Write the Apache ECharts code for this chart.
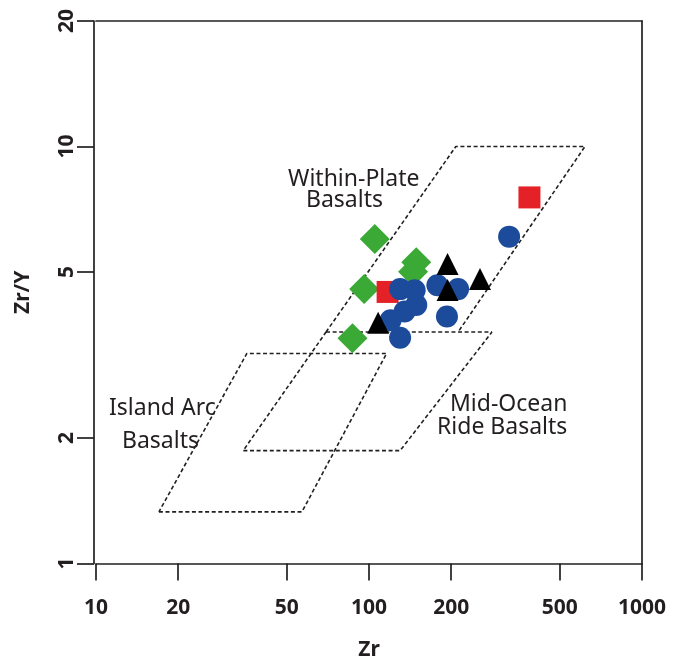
<!DOCTYPE html>
<html>
<head>
<meta charset="utf-8">
<script src="https://cdn.jsdelivr.net/npm/echarts@6/dist/echarts.min.js"></script>
<style>
  html, body { margin: 0; padding: 0; background: #fff; }
  #chart { width: 676px; height: 659px; }
</style>
</head>
<body>
<div id="chart"></div>
<script>
// Zr/Y versus Zr tectonic discrimination diagram (log–log)

// tick values on each axis
const xTicks = [10, 20, 50, 100, 200, 500, 1000];
const yTicks = [1, 2, 5, 10, 20];

// sample groups, each point is [Zr, Zr/Y]
const circles = [[326, 6.08], [178, 4.65], [212, 4.55], [130, 4.55], [147, 4.52],
                 [149, 4.17], [135, 4.02], [120, 3.83], [193, 3.91], [130, 3.48]];
const squares = [[387, 7.55], [117, 4.48]];
const triangles = [[194, 5.23], [255, 4.81], [194, 4.53], [108, 3.78]];
const diamonds = [[105, 6.0], [149, 5.28], [145, 5.01], [96, 4.55], [87, 3.47]];

// field boundaries, [Zr, Zr/Y] vertices
const wpbField = [[69.6, 3.59], [208, 10], [618, 10], [212, 3.59]];
const morbField = [[69.6, 3.59], [282, 3.59], [130, 1.865], [34.6, 1.865], [69.6, 3.59]];
const iabField = [[17, 1.33], [56.8, 1.33], [116, 3.19], [35.7, 3.19], [17, 1.33]];

const INK = '#231f20';
const axisLine = { show: true, onZero: false, lineStyle: { color: INK, width: 1.7 } };
const tickFont = { fontFamily: 'Noto Sans', fontWeight: 'bold', fontSize: 21, color: INK };
const fieldFont = { fontFamily: 'Noto Sans', fontSize: 23, fill: INK };
const dashed = { color: INK, width: 1.6, type: [4, 2.6] };

function fieldLine(data) {
  return { type: 'line', data: data, symbol: 'none', silent: true, z: 1,
           lineStyle: dashed, animation: false };
}
function group(data, symbol, size, color) {
  return { type: 'scatter', data: data, symbol: symbol, symbolSize: size,
           itemStyle: { color: color, opacity: 1 }, animation: false };
}
function fieldText(str, x, y) {
  return { type: 'text', x: x, y: y, style: Object.assign({ text: str, verticalAlign: 'middle', align: 'left' }, fieldFont), z: 10 };
}

const chart = echarts.init(document.getElementById('chart'), null, { renderer: 'canvas' });
chart.setOption({
  animation: false,
  backgroundColor: '#fff',
  grid: { left: 96, right: 34, top: 21, bottom: 95.5, containLabel: false, outerBoundsMode: 'none' },
  xAxis: [{
    type: 'log', logBase: 10, min: 10, max: 1000, position: 'bottom',
    axisLine: axisLine,
    axisTick: { show: true, length: 17, customValues: xTicks, lineStyle: { color: INK, width: 1.7 } },
    axisLabel: Object.assign({ customValues: xTicks, margin: 34, formatter: v => String(v) }, tickFont),
    splitLine: { show: false },
    name: 'Zr', nameLocation: 'middle', nameGap: 76,
    nameTextStyle: { fontFamily: 'Noto Sans', fontWeight: 'bold', fontSize: 21, color: INK }
  }, {
    type: 'log', logBase: 10, min: 10, max: 1000, position: 'top',
    axisLine: axisLine, axisTick: { show: false }, axisLabel: { show: false }, splitLine: { show: false }
  }],
  yAxis: [{
    type: 'log', logBase: 10, min: 1, max: 20, position: 'left', offset: 2,
    axisLine: axisLine,
    axisTick: { show: true, length: 17, customValues: yTicks, lineStyle: { color: INK, width: 1.7 } },
    axisLabel: Object.assign({ customValues: yTicks, rotate: 90, margin: 16, formatter: v => String(v) }, tickFont),
    splitLine: { show: false },
    name: 'Zr/Y', nameLocation: 'middle', nameGap: 60, nameRotate: 90,
    nameTextStyle: { fontFamily: 'Noto Sans', fontWeight: 'bold', fontSize: 21, color: INK }
  }, {
    type: 'log', logBase: 10, min: 1, max: 20, position: 'right',
    axisLine: axisLine, axisTick: { show: false }, axisLabel: { show: false }, splitLine: { show: false }
  }],
  series: [
    fieldLine(wpbField),
    fieldLine(morbField),
    fieldLine(iabField),
    group(diamonds, 'diamond', 30, '#3aa935'),
    group(squares, 'rect', 22, '#e42126'),
    group(circles, 'circle', 22, '#1d4b9b'),
    group(triangles, 'triangle', 22, '#000000')
  ],
  graphic: [
    fieldText('Within-Plate', 288, 179),
    fieldText('Basalts', 306, 200),
    fieldText('Island Arc', 109, 408),
    fieldText('Basalts', 122, 441),
    fieldText('Mid-Ocean', 450, 404),
    fieldText('Ride Basalts', 437, 427)
  ]
});
</script>
</body>
</html>
